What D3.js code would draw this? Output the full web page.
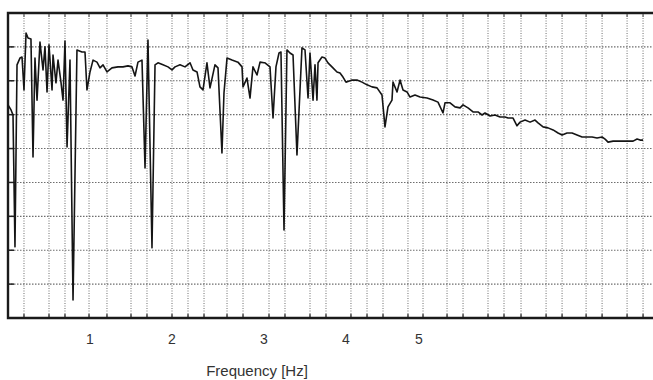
<!DOCTYPE html>
<html>
<head>
<meta charset="utf-8">
<script src="https://cdn.jsdelivr.net/npm/d3@7"></script>
<style>
  body { margin: 0; background: #fff; }
  svg { display: block; }
</style>
</head>
<body>
<svg class="spectrum" width="653" height="380"></svg>
<script>
// spectrum: frequency in Hz, level in dB
const freq = [
  0, 0.037, 0.061, 0.085, 0.110, 0.146, 0.171, 0.195, 0.220, 0.244, 0.280, 0.305, 0.329, 0.354, 0.390,
  0.427, 0.451, 0.476, 0.500, 0.537, 0.549, 0.585, 0.610, 0.646, 0.671, 0.695, 0.720, 0.756, 0.793,
  0.841, 0.902, 0.939, 0.963, 1.0,
  1.037, 1.085, 1.122, 1.159, 1.207, 1.268, 1.341, 1.402, 1.463, 1.512, 1.549, 1.585, 1.634, 1.671,
  1.707, 1.756, 1.793, 1.829, 1.890, 1.951, 2.0,
  2.033, 2.087, 2.141, 2.196, 2.228, 2.272, 2.304, 2.337, 2.380, 2.413, 2.467, 2.500, 2.543, 2.565,
  2.598, 2.652, 2.717, 2.761, 2.772, 2.815, 2.848, 2.880, 2.924, 2.957, 3.0,
  3.012, 3.073, 3.110, 3.146, 3.183, 3.207, 3.244, 3.280, 3.317, 3.354, 3.402, 3.463, 3.500, 3.537,
  3.561, 3.598, 3.622, 3.646, 3.659, 3.707, 3.744, 3.780, 3.841, 3.890, 3.927, 3.963, 4.0,
  4.082, 4.151, 4.219, 4.288, 4.356, 4.425, 4.493, 4.534, 4.575, 4.630, 4.644, 4.699, 4.740, 4.781,
  4.836, 4.877, 4.945, 5.014, 5.110, 5.192, 5.260, 5.329, 5.356, 5.425, 5.493, 5.562, 5.603, 5.671,
  5.740, 5.808, 5.863, 5.904, 5.973, 6.041, 6.110, 6.178, 6.219, 6.288, 6.342, 6.384, 6.452, 6.521,
  6.589, 6.630, 6.699, 6.767, 6.836, 6.904, 6.959, 7.027, 7.096, 7.164, 7.233, 7.301, 7.370, 7.438,
  7.507, 7.548, 7.589, 7.658, 7.753, 7.849, 7.932, 7.986, 8.027, 8.068
];
const level = [
  -27.1, -28.6, -30.1, -69.0, -15.3, -13.3, -13.0, -22.7, -5.9, -7.4, -7.7, -42.5, -13.3, -25.7, -8.6,
  -16.8, -10.0, -23.3, -9.4, -22.7, -12.4, -20.6, -13.9, -20.4, -25.7, -8.3, -39.5, -13.9, -84.7,
  -10.9, -11.5, -11.5, -22.7, -17.4,
  -13.9, -14.5, -16.2, -15.3, -17.4, -16.2, -15.9, -15.9, -15.6, -15.9, -18.6, -14.5, -13.9, -45.7,
  -8.0, -69.3, -15.3, -14.7, -15.3, -15.9, -16.8,
  -15.9, -15.3, -15.9, -14.7, -16.8, -17.4, -21.8, -22.7, -14.7, -22.1, -15.3, -16.2, -41.3, -23.6,
  -13.3, -13.9, -14.5, -15.9, -21.8, -19.2, -25.1, -15.9, -18.3, -14.5, -14.7,
  -14.7, -15.9, -31.0, -15.9, -11.8, -11.5, -64.0, -10.9, -11.8, -12.4, -41.9, -10.3, -10.9, -25.1,
  -11.8, -25.7, -15.3, -25.7, -14.7, -13.0, -13.3, -14.7, -16.2, -17.4, -17.7, -18.9, -20.4,
  -19.8, -19.8, -20.4, -21.2, -21.8, -22.1, -24.2, -33.6, -27.7, -25.7, -20.4, -23.3, -19.8, -22.7,
  -23.3, -24.8, -24.2, -24.8, -25.1, -25.7, -26.3, -29.5, -26.5, -26.5, -27.7, -28.0, -27.1, -28.0,
  -29.2, -29.2, -30.1, -29.5, -30.4, -30.1, -30.7, -30.7, -31.0, -31.0, -33.3, -32.2, -31.6, -32.2,
  -31.6, -32.4, -33.6, -33.9, -34.5, -35.4, -36.0, -35.4, -35.4, -36.0, -36.6, -36.6, -36.6, -36.9,
  -36.6, -37.2, -38.1, -37.8, -37.8, -37.8, -37.8, -37.2, -37.5, -37.5
];

const tickHz = [1, 2, 3, 4, 5];
const tickLabels = ['1', '2', '3', '4', '5'];

// vertical grid (uneven in the original)
const gridHz = [0.195, 0.5, 0.695, 0.988, 1.207, 1.5, 1.695, 2.0, 2.174, 2.348, 2.598, 2.772,
  3.061, 3.256, 3.561, 3.756, 4.068, 4.288, 4.507, 4.849, 5.055, 5.384, 5.603, 5.945,
  6.164, 6.397, 6.740, 6.959, 7.288, 7.507, 7.849, 8.068];
const levelTicks = [-80, -70, -60, -50, -40, -30, -20, -10];

const xTitle = 'Frequency [Hz]';

const plot = {left: 8, top: 13, bottom: 318, right: 660};

// the printed axis is not evenly spaced, so a piecewise scale
const x = d3.scaleLinear()
            .domain([0, 1, 2, 3, 4, 5, 8.3])
            .range([plot.left, 90, 172, 264, 346, 419, plot.right]);

const y = d3.scaleLinear()
            .domain([-90, 0])
            .range([plot.bottom, plot.top]);

const svg = d3.select('svg.spectrum');

const data = freq.map((f, i) => ({f: f, v: level[i]}));

// grid
svg.append('g')
  .selectAll('line')
  .data(gridHz)
  .enter()
  .append('line')
    .attr('x1', d => x(d))
    .attr('x2', d => x(d))
    .attr('y1', plot.top)
    .attr('y2', plot.bottom)
    .attr('stroke', '#6e6e6e')
    .attr('stroke-width', 1)
    .attr('stroke-dasharray', '1,1.5');

svg.append('g')
  .selectAll('line')
  .data(levelTicks)
  .enter()
  .append('line')
    .attr('x1', plot.left)
    .attr('x2', plot.right)
    .attr('y1', d => y(d))
    .attr('y2', d => y(d))
    .attr('stroke', '#6e6e6e')
    .attr('stroke-width', 1.1)
    .attr('stroke-dasharray', '1.5,1.5');

// small ticks along top and bottom frame
svg.append('g')
  .selectAll('line')
  .data(gridHz)
  .enter()
  .append('line')
    .attr('x1', d => x(d))
    .attr('x2', d => x(d))
    .attr('y1', plot.bottom - 4)
    .attr('y2', plot.bottom)
    .attr('stroke', '#222')
    .attr('stroke-width', 1.2);

svg.append('g')
  .selectAll('line')
  .data(gridHz)
  .enter()
  .append('line')
    .attr('x1', d => x(d))
    .attr('x2', d => x(d))
    .attr('y1', plot.top)
    .attr('y2', plot.top + 4)
    .attr('stroke', '#444')
    .attr('stroke-width', 1);

// left ticks
svg.append('g')
  .selectAll('line')
  .data(levelTicks)
  .enter()
  .append('line')
    .attr('x1', plot.left)
    .attr('x2', plot.left + 6)
    .attr('y1', d => y(d))
    .attr('y2', d => y(d))
    .attr('stroke', '#222')
    .attr('stroke-width', 1.5);

// frame
svg.append('path')
  .attr('d', `M${plot.right},${plot.top}H${plot.left}V${plot.bottom}H${plot.right}`)
  .attr('fill', 'none')
  .attr('stroke', '#1a1a1a')
  .attr('stroke-width', 2.4);

// spectrum line
const line = d3.line()
               .x(d => x(d.f))
               .y(d => y(d.v));

svg.append('path')
  .datum(data)
  .attr('d', line)
  .attr('fill', 'none')
  .attr('stroke', '#151515')
  .attr('stroke-width', 1.6)
  .attr('stroke-linejoin', 'round');

// tick labels
svg.append('g')
  .selectAll('text')
  .data(tickHz)
  .enter()
  .append('text')
    .attr('x', d => x(d))
    .attr('y', 344)
    .text((d, i) => tickLabels[i])
    .attr('text-anchor', 'middle')
    .attr('font-family', "'Liberation Sans', Arial, sans-serif")
    .attr('font-size', '14px')
    .attr('fill', '#333');

svg.append('text')
  .attr('x', 257)
  .attr('y', 376)
  .text(xTitle)
  .attr('text-anchor', 'middle')
  .attr('font-family', "'Liberation Sans', Arial, sans-serif")
  .attr('font-size', '15px')
  .attr('fill', '#333');
</script>
</body>
</html>
